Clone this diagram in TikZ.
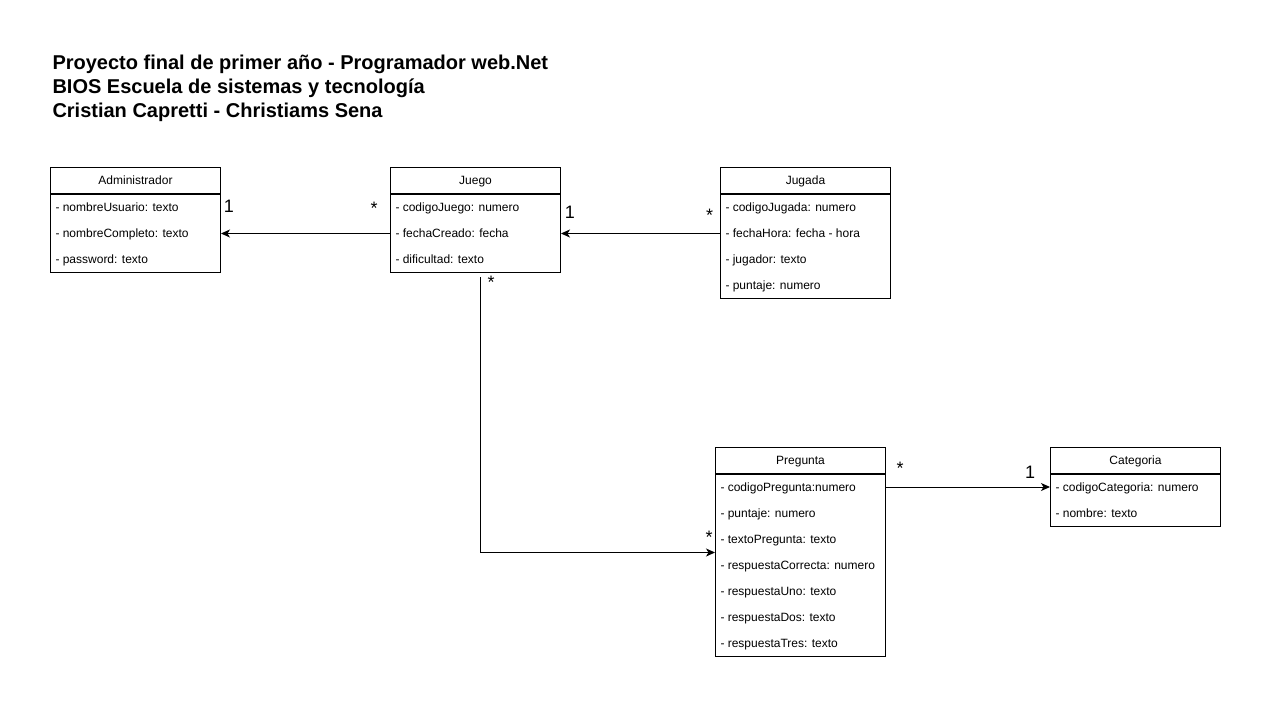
\documentclass[tikz,border=0pt]{standalone}
\usepackage{fontspec}
\setmainfont{Liberation Sans}
\usetikzlibrary{arrows.meta,positioning}

\begin{document}
\begin{tikzpicture}[x=1bp,y=-1bp,line width=1bp,>={Stealth[length=9bp,width=8bp,inset=2.5bp]},
	class head/.style = {draw,anchor=north west,minimum width=170bp,minimum height=26bp,inner sep=0pt,
		text height=8.6bp,text depth=0pt,font=\fontsize{12bp}{14bp}\selectfont},
	class body/.style = {draw,anchor=north,minimum width=170bp,inner sep=0pt},
	attr/.style = {anchor=base west,inner sep=0pt,font=\fontsize{12bp}{14bp}\selectfont},
	mult/.style = {anchor=base,inner sep=0pt,font=\fontsize{18bp}{20bp}\selectfont}]
	
	\useasboundingbox (0,0) rectangle (1271,708);
	
	\node[anchor=base west,align=left,inner sep=0pt,font=\fontsize{20bp}{24bp}\selectfont\bfseries] (titulo) at (52,118)
		{Proyecto final de primer año - Programador web.Net\\BIOS Escuela de sistemas y tecnología\\Cristian Capretti - Christiams Sena};
	
	% Administrador
	\node[class head] (adm) at (50,167) {Administrador};
	\node[class body,minimum height=78bp] (admBody) at (adm.south) {};
	\foreach \t [count=\i] in {- nombreUsuario: texto, - nombreCompleto: texto, - password: texto}
		\node[attr] (adm\i) at ([xshift=5bp,yshift={-26bp*\i+8.5bp}]adm.south west) {\t};
	
	% Juego
	\node[class head] (juego) at (390,167) {Juego};
	\node[class body,minimum height=78bp] (juegoBody) at (juego.south) {};
	\foreach \t [count=\i] in {- codigoJuego: numero, - fechaCreado: fecha, - dificultad: texto}
		\node[attr] (juego\i) at ([xshift=5bp,yshift={-26bp*\i+8.5bp}]juego.south west) {\t};
	
	% Jugada
	\node[class head] (jugada) at (720,167) {Jugada};
	\node[class body,minimum height=104bp] (jugadaBody) at (jugada.south) {};
	\foreach \t [count=\i] in {- codigoJugada: numero, - fechaHora: fecha - hora, - jugador: texto, - puntaje: numero}
		\node[attr] (jugada\i) at ([xshift=5bp,yshift={-26bp*\i+8.5bp}]jugada.south west) {\t};
	
	% Pregunta
	\node[class head] (preg) at (715,447) {Pregunta};
	\node[class body,minimum height=182bp] (pregBody) at (preg.south) {};
	\foreach \t [count=\i] in {- codigoPregunta:numero, - puntaje: numero, - textoPregunta: texto,
		- respuestaCorrecta: numero, - respuestaUno: texto, - respuestaDos: texto, - respuestaTres: texto}
		\node[attr] (preg\i) at ([xshift=5bp,yshift={-26bp*\i+8.5bp}]preg.south west) {\t};
	
	% Categoria
	\node[class head] (cat) at (1050,447) {Categoria};
	\node[class body,minimum height=52bp] (catBody) at (cat.south) {};
	\foreach \t [count=\i] in {- codigoCategoria: numero, - nombre: texto}
		\node[attr] (cat\i) at ([xshift=5bp,yshift={-26bp*\i+8.5bp}]cat.south west) {\t};
	
	% relaciones
	\coordinate (pregIn) at ([yshift=13bp]pregBody.west);
	\draw[->] (juegoBody) -- (admBody);
	\draw[->] (jugadaBody.west |- juegoBody.east) -- (juegoBody.east);
	\draw[->] ([xshift=5bp,yshift=-4bp]juegoBody.south) |- (pregIn);
	\draw[->] ([yshift=-13bp]pregBody.north east) -- ([yshift=-13bp]catBody.north west);
	
	\node[mult] (m1) at (229,213) {1};
	\node[mult] (m2) at (374,215) {*};
	\node[mult] (m3) at (570,219) {1};
	\node[mult] (m4) at (709.5,222) {*};
	\node[mult] (m5) at (491,288.5) {*};
	\node[mult] (m6) at (709,543.5) {*};
	\node[mult] (m7) at (900,474.5) {*};
	\node[mult] (m8) at (1030,478) {1};
	
\end{tikzpicture}
\end{document}
